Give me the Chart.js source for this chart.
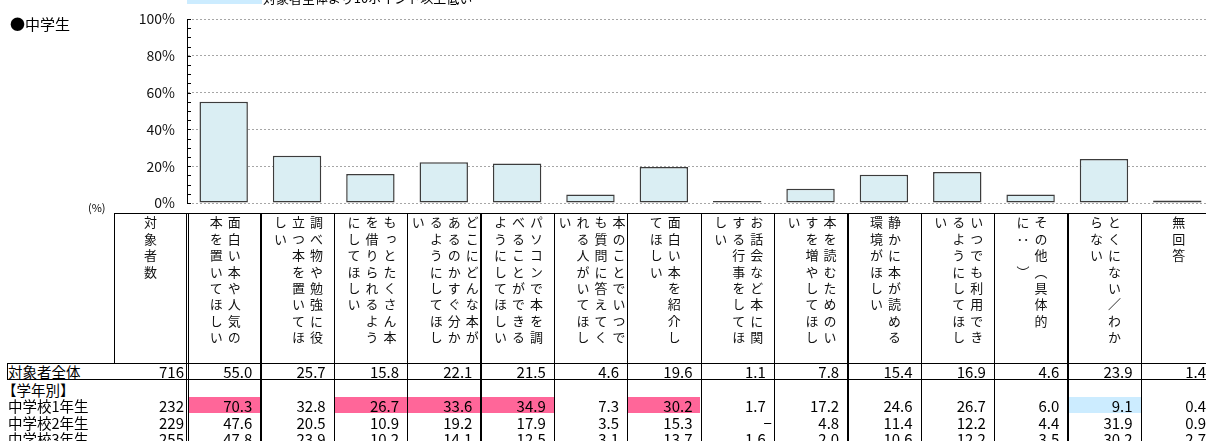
<!DOCTYPE html>
<html><head><meta charset="utf-8">
<script src="https://cdn.jsdelivr.net/npm/chart.js@4/dist/chart.umd.min.js"></script>
<style>
html,body{margin:0;padding:0;overflow:hidden;background:#fff;width:1206px;height:441px;}
#wrap{position:relative;width:1206px;height:441px;overflow:hidden;font-family:"Noto Sans CJK JP",sans-serif;color:#000;}
canvas{position:absolute;left:0;top:0;}
.ln{position:absolute;background:#000;}
.hd{position:absolute;top:213px;height:150px;display:flex;justify-content:center;}
.vt{writing-mode:vertical-rl;font-size:13px;line-height:18px;letter-spacing:3.4px;white-space:nowrap;margin-top:3px;height:140px;color:#111;}
.num{position:absolute;text-align:right;font-family:"Liberation Sans Narrow","Noto Sans CJK JP",sans-serif;font-size:15px;line-height:17px;height:17px;white-space:nowrap;}
.lab{position:absolute;font-size:14.5px;line-height:17px;white-space:nowrap;}
.cell{position:absolute;}
</style></head><body><div id="wrap">
<canvas id="c" width="1216" height="213"></canvas>
</div>
<script>
// ---- data ----
const categories = [
  ["面白い本や人気の","本を置いてほしい"],
  ["調べ物や勉強に役","立つ本を置いてほ","しい"],
  ["もっとたくさん本","を借りられるよう","にしてほしい"],
  ["どこにどんな本が","あるのかすぐ分か","るようにしてほし","い"],
  ["パソコンで本を調","べることができる","ようにしてほしい"],
  ["本のことでいつで","も質問に答えてく","れる人がいてほし","い"],
  ["面白い本を紹介し","てほしい"],
  ["お話会など本に関","する行事をしてほ","しい"],
  ["本を読むためのい","すを増やしてほし","い"],
  ["静かに本が読める","環境がほしい"],
  ["いつでも利用でき","るようにしてほし","い"],
  ["その他（具体的","に：　）"],
  ["とくにない／わか","らない"],
  ["無回答"]
];
const totalLabel = "対象者全体";
const totalN = 716;
const totalValues = [55.0, 25.7, 15.8, 22.1, 21.5, 4.6, 19.6, 1.1, 7.8, 15.4, 16.9, 4.6, 23.9, 1.4];
const groupHeading = "【学年別】";
const gradeLabels = ["中学校1年生", "中学校2年生", "中学校3年生"];
const gradeN = [232, 229, 255];
const grade1 = [70.3, 32.8, 26.7, 33.6, 34.9, 7.3, 30.2, 1.7, 17.2, 24.6, 26.7, 6.0, 9.1, 0.4];
const grade2 = [47.6, 20.5, 10.9, 19.2, 17.9, 3.5, 15.3, 0, 4.8, 11.4, 12.2, 4.4, 31.9, 0.9];
const grade3 = [47.8, 23.9, 10.2, 14.1, 12.5, 3.1, 13.7, 1.6, 2.0, 10.6, 12.2, 3.5, 30.2, 2.7];
const yTicks = [0, 20, 40, 60, 80, 100];
const nHeader = "対象者数";
const title = "●中学生";
const unitLabel = "(%)";
const legendLowText = "対象者全体より10ポイント以上低い";

// ---- chart ----
const minorTicks = {
  id: 'minorTicks',
  afterDraw(chart) {
    const y = chart.scales.y, ctx = chart.ctx, x0 = chart.chartArea.left;
    ctx.save(); ctx.strokeStyle = '#000'; ctx.lineWidth = 1;
    for (let v = 0; v <= 100; v += 5) {
      const py = Math.round(y.getPixelForValue(v)) + 0.5;
      ctx.beginPath(); ctx.moveTo(x0, py); ctx.lineTo(x0 + 4, py); ctx.stroke();
    }
    ctx.restore();
  }
};
const chart = new Chart(document.getElementById('c'), {
  type: 'bar',
  data: {
    labels: categories,
    datasets: [{
      data: totalValues,
      backgroundColor: '#DAEEF3',
      borderColor: '#3c3c3c',
      borderWidth: 1.5,
      borderSkipped: false,
      barPercentage: 0.66,
      categoryPercentage: 1
    }]
  },
  options: {
    responsive: false,
    animation: false,
    devicePixelRatio: 1,
    layout: { padding: { top: 19, right: 2, bottom: 10, left: 0 } },
    plugins: { legend: { display: false }, tooltip: { enabled: false } },
    scales: {
      x: { display: false },
      y: {
        min: 0, max: 100,
        afterFit(s) { s.width = 187; s.paddingTop = 0; s.paddingBottom = 0; },
        afterBuildTicks(s) { s.ticks = yTicks.map(v => ({ value: v })); },
        ticks: {
          padding: 12,
          color: '#111',
          font: { family: '"Liberation Sans Narrow","Noto Sans CJK JP",sans-serif', size: 14 },
          callback: v => v + '%'
        },
        grid: { color: '#a6a6a6', lineWidth: 1, drawTicks: false },
        border: { display: true, color: '#000', width: 1, dash: [2, 2] }
      }
    }
  },
  plugins: [minorTicks]
});

// ---- table & texts ----
const wrap = document.getElementById('wrap');
function add(cls, style, html) {
  const d = document.createElement('div');
  d.className = cls; Object.assign(d.style, style);
  if (html !== undefined) d.innerHTML = html;
  wrap.appendChild(d); return d;
}
const ca = chart.chartArea;
const n = categories.length;
const cw = (ca.right - ca.left) / n;
const colL = i => ca.left + 1 + i * cw;

// title, unit, legend
add('lab', { left: '10px', top: '15px', fontSize: '15px' }, title);
add('lab', { left: '88px', top: '199px', fontSize: '11px' }, unitLabel);
add('cell', { left: '187px', top: '-9px', width: '75px', height: '13px', background: '#CCECFF' });
add('lab', { left: '263px', top: '-11px', fontSize: '13px' }, legendLowText);

// highlights
const rowTop = [363, 379.7, 396.4, 413.1, 429.8];
const grades = [grade1, grade2, grade3];
grades.forEach((g, r) => {
  g.forEach((v, i) => {
    const d = v - totalValues[i];
    let col = null;
    if (d >= 10) col = '#FF6699'; else if (d <= -10) col = '#CCECFF';
    if (col) add('cell', { left: (colL(i)) + 'px', top: (rowTop[r + 2] + 0.3) + 'px', width: (cw - 1) + 'px', height: '16.5px', background: col });
  });
});

// header cells
add('hd', { left: '114px', width: '72px' }, '<div class="vt">' + nHeader + '</div>');
categories.forEach((c, i) => {
  add('hd', { left: colL(i) + 'px', width: cw + 'px' }, '<div class="vt">' + c.join('<br>') + '</div>');
});

// lines
const right = ca.right + 2;
add('ln', { left: '114px', top: '213px', width: (right - 114) + 'px', height: '1.3px' });
add('ln', { left: '6.5px', top: '362.5px', width: (right - 6.5) + 'px', height: '1.3px' });
add('ln', { left: '6.5px', top: '379px', width: (right - 6.5) + 'px', height: '1.3px' });
add('ln', { left: '114px', top: '213px', width: '1.3px', height: '150px' });
add('ln', { left: '6.5px', top: '362.5px', width: '1.3px', height: '17px' });
add('ln', { left: '185.5px', top: '213px', width: '1px', height: '240px' });
add('ln', { left: '187.5px', top: '213px', width: '1px', height: '240px' });
for (let i = 1; i <= n; i++) add('ln', { left: (ca.left + i * cw) + 'px', top: '213px', width: '1.3px', height: '240px' });

// rows
function fmt(v) { return v === 0 ? '−' : v.toFixed(1); }
function row(label, nval, vals, top, labLeft) {
  add('lab', { left: labLeft + 'px', top: top + 'px' }, label);
  if (nval !== null) add('num', { left: '120px', width: '64px', top: top + 'px' }, String(nval));
  if (vals) vals.forEach((v, i) => {
    const pad = v === 0 ? 2 : 8;
    add('num', { left: colL(i) + 'px', width: (cw - 1 - pad) + 'px', top: top + 'px' }, fmt(v));
  });
}
row(totalLabel, totalN, totalValues, 362.5, 8);
row(groupHeading, null, null, 380.5, 2);
row(gradeLabels[0], gradeN[0], grade1, 396.8, 8);
row(gradeLabels[1], gradeN[1], grade2, 413.5, 8);
row(gradeLabels[2], gradeN[2], grade3, 430.2, 8);
</script>
</body></html>
